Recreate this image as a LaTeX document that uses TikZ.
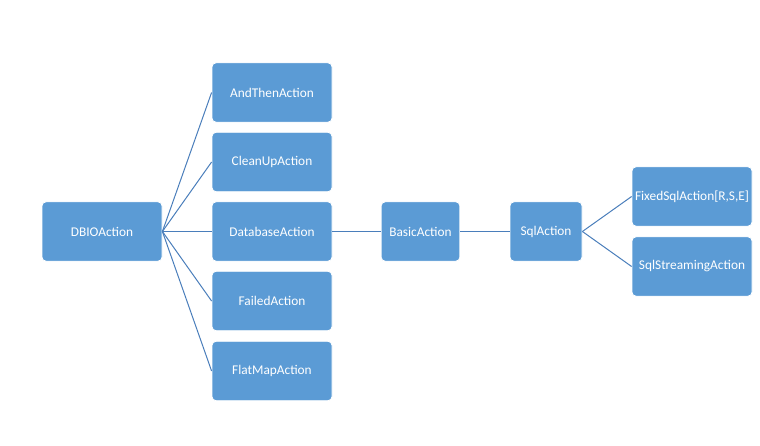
\documentclass[tikz,border=0pt]{standalone}
\usepackage{fontspec}
\setmainfont{Carlito}
\definecolor{boxblue}{HTML}{5B9BD5}
\definecolor{lineblue}{HTML}{4A7EBB}
\tikzset{
    actbox/.style={fill=boxblue, draw=white, line width=0.6pt, rounded corners=3pt,
        text=white, font=\fontsize{10}{12}\selectfont, inner sep=1pt,
        minimum width=90pt, minimum height=44.5pt},
    link/.style={draw=lineblue, line width=0.75pt}
}
\begin{document}
\begin{tikzpicture}[x=0.75pt,y=-0.75pt]
    \useasboundingbox (0,0) rectangle (760,446);
    % Nodes
    \node[actbox] (dbio) at (102,231.5) {DBIOAction};

    \node[actbox] (andthen) at (272,92.5) {AndThenAction};
    \node[actbox] (cleanup) at (272,162) {CleanUpAction};
    \node[actbox] (database) at (272,231.5) {DatabaseAction};
    \node[actbox] (failed) at (272,301) {FailedAction};
    \node[actbox] (flatmap) at (272,371) {FlatMapAction};

    \node[actbox, minimum width=59pt] (basic) at (420.5,231.5) {BasicAction};
    \node[actbox, minimum width=54pt] (sql) at (546,231.5) {SqlAction};

    \node[actbox] (fixed) at (692,196.5) {FixedSqlAction[R,S,E]};
    \node[actbox] (streaming) at (692,266.5) {SqlStreamingAction};

    % Lines
    \draw[link] (dbio.east) -- (andthen.west);
    \draw[link] (dbio.east) -- (cleanup.west);
    \draw[link] (dbio.east) -- (database.west);
    \draw[link] (dbio.east) -- (failed.west);
    \draw[link] (dbio.east) -- (flatmap.west);

    \draw[link] (database.east) -- (basic.west);
    \draw[link] (basic.east) -- (sql.west);

    \draw[link] (sql.east) -- (fixed.west);
    \draw[link] (sql.east) -- (streaming.west);
\end{tikzpicture}
\end{document}
